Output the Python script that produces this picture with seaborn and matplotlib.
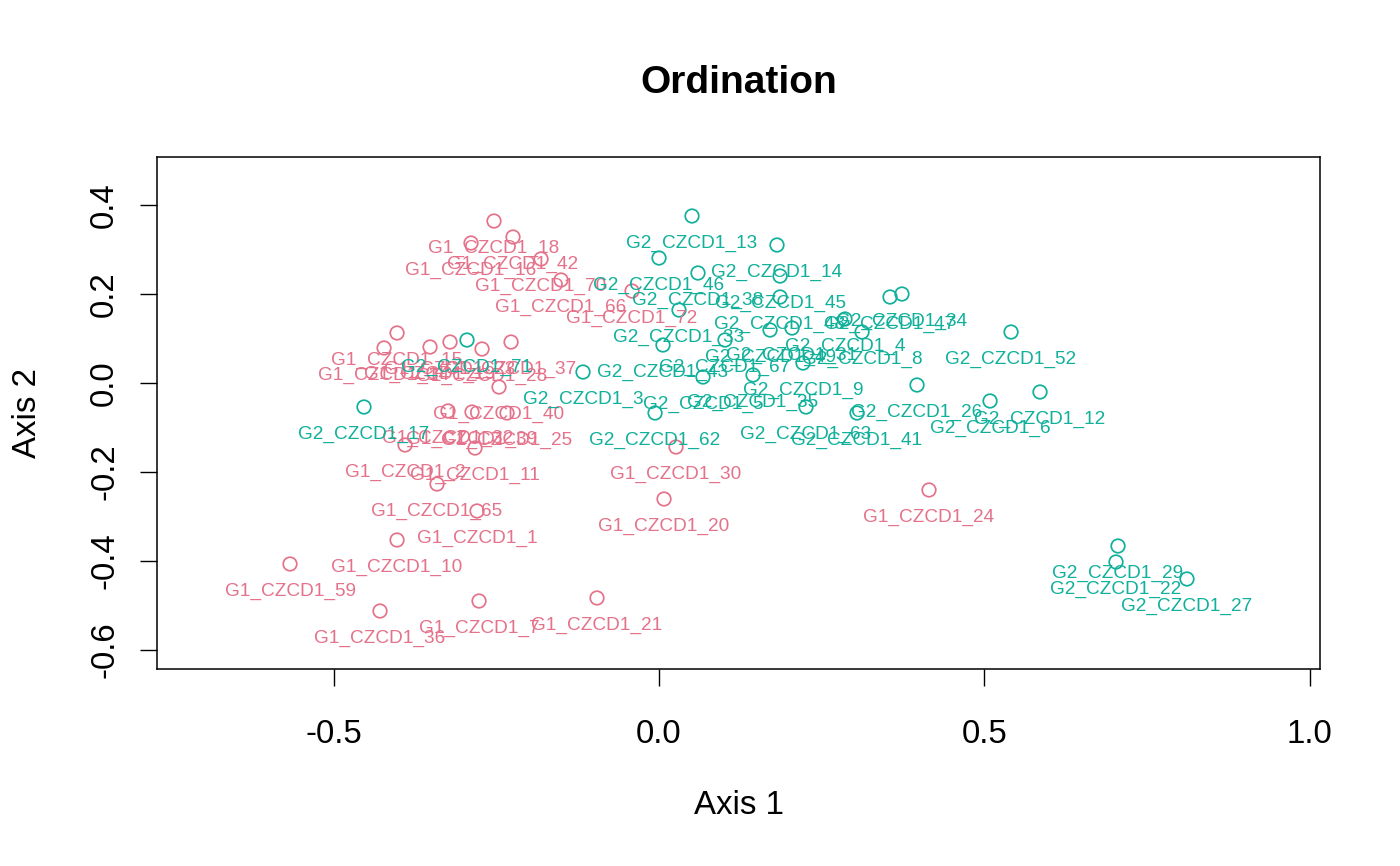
import numpy as np
import pandas as pd
import matplotlib
matplotlib.use("Agg")
import matplotlib.pyplot as plt
import seaborn as sns

# ---- data ----
g1_names = ["G1_CZCD1_18", "G1_CZCD1_42", "G1_CZCD1_16", "G1_CZCD1_70", "G1_CZCD1_66",
            "G1_CZCD1_72", "G1_CZCD1_15", "G1_CZCD1_14", "G1_CZCD1_19", "G1_CZCD1_23",
            "G1_CZCD1_28", "G1_CZCD1_37", "G1_CZCD1_40", "G1_CZCD1_32", "G1_CZCD1_39",
            "G1_CZCD1_25", "G1_CZCD1_2", "G1_CZCD1_11", "G1_CZCD1_65", "G1_CZCD1_1",
            "G1_CZCD1_10", "G1_CZCD1_59", "G1_CZCD1_36", "G1_CZCD1_7", "G1_CZCD1_21",
            "G1_CZCD1_30", "G1_CZCD1_20", "G1_CZCD1_24"]
g1_x = [-0.2536, -0.2244, -0.2889, -0.1813, -0.1506,
        -0.0415, -0.4026, -0.4226, -0.3519, -0.3212,
        -0.2720, -0.2274, -0.2459, -0.3243, -0.2874,
        -0.2336, -0.3903, -0.2828, -0.3412, -0.2797,
        -0.4026, -0.5671, -0.4288, -0.2766, -0.0953,
        0.0261, 0.0077, 0.4149]
g1_y = [0.3640, 0.3281, 0.3146, 0.2787, 0.2315,
        0.2067, 0.1124, 0.0787, 0.0809, 0.0921,
        0.0764, 0.0921, -0.0090, -0.0629, -0.0652,
        -0.0674, -0.1393, -0.1461, -0.2270, -0.2876,
        -0.3528, -0.4067, -0.5124, -0.4899, -0.4831,
        -0.1438, -0.2607, -0.2404]

g2_names = ["G2_CZCD1_13", "G2_CZCD1_14", "G2_CZCD1_46", "G2_CZCD1_38", "G2_CZCD1_45",
            "G2_CZCD1_48", "G2_CZCD1_33", "G2_CZCD1_43", "G2_CZCD1_67", "G2_CZCD1_49",
            "G2_CZCD1_31", "G2_CZCD1_4", "G2_CZCD1_8", "G2_CZCD1_47", "G2_CZCD1_34",
            "G2_CZCD1_9", "G2_CZCD1_35", "G2_CZCD1_5", "G2_CZCD1_62", "G2_CZCD1_63",
            "G2_CZCD1_41", "G2_CZCD1_26", "G2_CZCD1_6", "G2_CZCD1_12", "G2_CZCD1_52",
            "G2_CZCD1_3", "G2_CZCD1_17", "G2_CZCD1_71", "G2_CZCD1_29", "G2_CZCD1_22",
            "G2_CZCD1_27"]
g2_x = [0.0507, 0.1813, 0.0000, 0.0599, 0.1860,
        0.1860, 0.0307, 0.0061, 0.1014, 0.1706,
        0.2044, 0.2858, 0.3120, 0.3550, 0.3734,
        0.2213, 0.1445, 0.0676, -0.0061, 0.2259,
        0.3043, 0.3965, 0.5087, 0.5855, 0.5410,
        -0.1168, -0.4534, -0.2951, 0.7054, 0.7023,
        0.8114]
g2_y = [0.3753, 0.3101, 0.2809, 0.2472, 0.2404,
        0.1933, 0.1640, 0.0854, 0.0966, 0.1191,
        0.1236, 0.1438, 0.1146, 0.1933, 0.2000,
        0.0449, 0.0180, 0.0135, -0.0674, -0.0539,
        -0.0674, -0.0045, -0.0404, -0.0202, 0.1146,
        0.0247, -0.0539, 0.0966, -0.3663, -0.4022,
        -0.4404]

groups = ["G1", "G2"]
x_ticks = [-0.5, 0.0, 0.5, 1.0]
x_tick_labels = ["-0.5", "0.0", "0.5", "1.0"]
y_ticks = [-0.6, -0.4, -0.2, 0.0, 0.2, 0.4]
y_tick_labels = ["-0.6", "-0.4", "-0.2", "0.0", "0.2", "0.4"]

df = pd.DataFrame({
    "Sample": g1_names + g2_names,
    "Axis1": g1_x + g2_x,
    "Axis2": g1_y + g2_y,
    "Group": [groups[0]] * len(g1_names) + [groups[1]] * len(g2_names),
})

palette = {"G1": "#E4728A", "G2": "#10B09B"}

# ---- figure ----
sns.set_theme(style="white")
plt.rcParams["font.family"] = ["Liberation Sans", "DejaVu Sans"]

fig = plt.figure(figsize=(14, 8.66), dpi=100)
W, H = 1400, 866
ax = fig.add_axes([157 / W, 1 - 669 / H, (1320 - 157) / W, (669 - 157) / H])

sns.scatterplot(data=df, x="Axis1", y="Axis2", hue="Group", palette=palette,
                s=95, marker="o", linewidth=1.25, legend=False, ax=ax, zorder=3)
coll = ax.collections[0]
fc = coll.get_facecolors()
coll.set_edgecolors(fc)
coll.set_facecolors("none")

for _, r in df.iterrows():
    ax.annotate(r["Sample"], (r["Axis1"], r["Axis2"]), xytext=(0, -22.9),
                textcoords="offset points", ha="center", va="baseline",
                fontsize=13.7, color=palette[r["Group"]], zorder=4)

ax.set_xlim(-0.7715, 1.0158)
ax.set_ylim(-0.6427, 0.5079)
ax.set_xticks(x_ticks)
ax.set_xticklabels(x_tick_labels)
ax.set_yticks(y_ticks)
ax.set_yticklabels(y_tick_labels, rotation=90, va="center")

ax.tick_params(axis="both", direction="out", length=12.2, width=1.0,
               color="black", labelcolor="black", labelsize=23.8,
               bottom=True, left=True)
ax.tick_params(axis="x", pad=23.5)
ax.tick_params(axis="y", pad=14.4)

for s in ax.spines.values():
    s.set_visible(True)
    s.set_color("black")
    s.set_linewidth(1.1)

ax.set_xlabel("Axis 1", fontsize=23.8, color="black", va="center")
ax.xaxis.set_label_coords(0.5, (669 - 805) / 512)
ax.set_ylabel("Axis 2", fontsize=23.8, color="black", va="center")
ax.yaxis.set_label_coords((28 - 157) / 1163, 0.5)
ax.set_title("Ordination", fontsize=28, fontweight="bold", color="black",
             y=(669 - 83) / 512, va="center", pad=0)

fig.savefig("out.png", dpi=100)
